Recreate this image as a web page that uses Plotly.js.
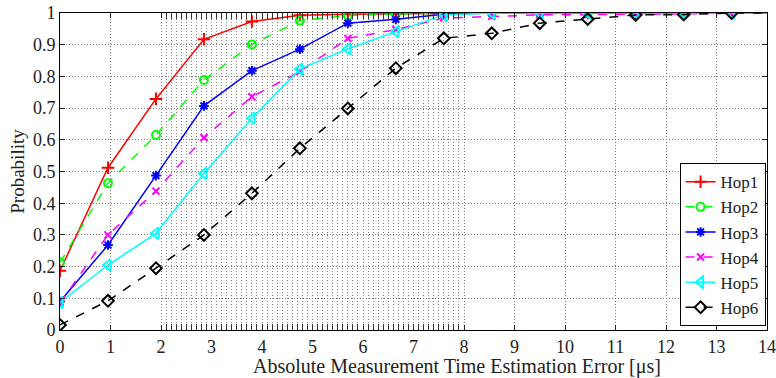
<!DOCTYPE html>
<html><head><meta charset="utf-8">
<script src="https://cdn.plot.ly/plotly-3.0.1.min.js"></script>
<style>html,body{margin:0;padding:0;background:#fff;}#chart{width:776px;height:378px;}</style>
</head><body><div id="chart"></div>
<script>
const xVals = [0, 0.95, 1.9, 2.85, 3.8, 4.75, 5.7, 6.65, 7.6, 8.55, 9.5, 10.45, 11.4, 12.35, 13.3, 14.25];
const hop1 = [0.187, 0.512, 0.729, 0.917, 0.973, 0.993, 0.996, 0.998, 1, 1, 1, 1, 1, 1, 1, 1];
const hop2 = [0.213, 0.463, 0.615, 0.789, 0.901, 0.976, 0.992, 0.996, 1, 1, 1, 1, 1, 1, 1, 1];
const hop3 = [0.09, 0.268, 0.487, 0.707, 0.818, 0.886, 0.968, 0.98, 0.996, 1, 1, 1, 1, 1, 1, 1];
const hop4 = [0.085, 0.30, 0.438, 0.607, 0.736, 0.815, 0.92, 0.948, 0.984, 0.99, 0.994, 0.995, 0.995, 0.997, 1, 1];
const hop5 = [0.087, 0.205, 0.305, 0.494, 0.668, 0.823, 0.887, 0.941, 0.994, 1, 1, 1, 1, 1, 1, 1];
const hop6 = [0.016, 0.092, 0.195, 0.30, 0.431, 0.573, 0.699, 0.826, 0.92, 0.936, 0.968, 0.981, 0.994, 0.995, 1, 1];
const names = ['Hop1', 'Hop2', 'Hop3', 'Hop4', 'Hop5', 'Hop6'];
const series = [hop1, hop2, hop3, hop4, hop5, hop6];
const xTickVals = [0,1,2,3,4,5,6,7,8,9,10,11,12,13,14];
const yTickVals = [0,0.1,0.2,0.3,0.4,0.5,0.6,0.7,0.8,0.9,1];
const yTickText = ['0','0.1','0.2','0.3','0.4','0.5','0.6','0.7','0.8','0.9','1'];
const xTitle = 'Absolute Measurement Time Estimation Error [μs]';
const yTitle = 'Probability';

const styles = [
  {color:'#ff0000', dash:'solid', symbol:'cross-thin-open', size:9},
  {color:'#00ff00', dash:'dash', symbol:'circle-open', size:8},
  {color:'#0000ff', dash:'solid', symbol:'asterisk-open', size:8},
  {color:'#ff00ff', dash:'dash', symbol:'x-thin-open', size:7},
  {color:'#00ffff', dash:'solid', symbol:'triangle-left-open', size:10},
  {color:'#000000', dash:'dash', symbol:'diamond-open', size:9}
];

// minor vertical grid from 2 to 8 every 0.1
const minorVals = [];
for (let i = 21; i < 80; i++) minorVals.push(i / 10);

const traces = series.map((s, i) => ({
  x: xVals, y: s, name: names[i], type: 'scatter', mode: 'lines+markers',
  line: {color: styles[i].color, width: 1.5, dash: styles[i].dash},
  marker: {symbol: styles[i].symbol, size: styles[i].size, color: styles[i].color,
           line: {color: styles[i].color, width: 2}},
  cliponaxis: true
}));
traces.unshift({x:[0], y:[null], xaxis:'x2', yaxis:'y', showlegend:false, hoverinfo:'skip', mode:'lines'});

const font = {family: '"Liberation Serif", "Times New Roman", serif', color: '#222'};
const layout = {
  width: 776, height: 378,
  margin: {l: 60, r: 9, t: 13, b: 48},
  paper_bgcolor: '#fff', plot_bgcolor: '#fff',
  showlegend: true,
  font: Object.assign({size: 18}, font),
  xaxis: {
    range: [0, 14], tickmode: 'array', tickvals: xTickVals,
    showline: true, linecolor: '#000', linewidth: 1, mirror: 'ticks',
    ticks: 'inside', ticklen: 5, tickcolor: '#222',
    showgrid: true, gridcolor: '#777', gridwidth: 1, griddash: '1px,2px',
    zeroline: false, ticklabeloverflow: 'allow',
    tickfont: Object.assign({size: 18}, font)
  },
  xaxis2: {
    overlaying: 'x', range: [0, 14], tickmode: 'array', tickvals: minorVals,
    showticklabels: false, ticks: 'inside', ticklen: 6, tickcolor: '#333',
    showgrid: true, gridcolor: '#888', gridwidth: 1, griddash: '1px,2px',
    showline: false, zeroline: false, mirror: 'ticks', side: 'bottom'
  },
  yaxis: {
    range: [0, 1], tickmode: 'array', tickvals: yTickVals, ticktext: yTickText,
    showline: true, linecolor: '#000', linewidth: 1, mirror: 'ticks',
    ticks: 'inside', ticklen: 5, tickcolor: '#222',
    showgrid: true, gridcolor: '#777', gridwidth: 1, griddash: '1px,2px',
    zeroline: false,
    tickfont: Object.assign({size: 18}, font),
    title: {text: yTitle, font: Object.assign({size: 19}, font), standoff: 3}
  },
  annotations: [{
    text: xTitle, xref: 'paper', yref: 'paper', x: 0.562, y: -0.115,
    xanchor: 'center', yanchor: 'middle', showarrow: false,
    font: Object.assign({size: 20}, font)
  }],
  legend: {
    x: 0.998, y: 0.012, xanchor: 'right', yanchor: 'bottom',
    bgcolor: '#fff', bordercolor: '#000', borderwidth: 1,
    font: Object.assign({size: 17}, font),
    tracegroupgap: 0, itemwidth: 30
  }
};
Plotly.newPlot('chart', traces, layout, {displayModeBar: false, staticPlot: true});
</script></body></html>
